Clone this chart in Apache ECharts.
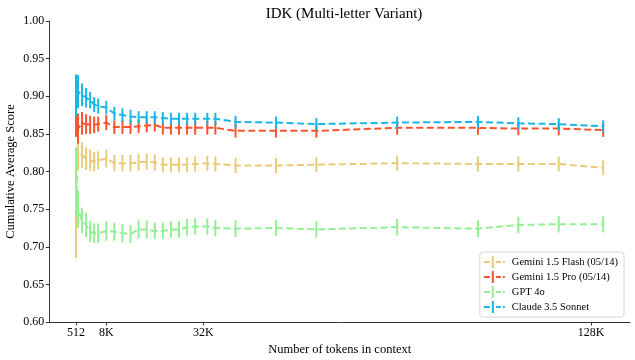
<!DOCTYPE html>
<html lang="en">
  <head>
    <meta charset="UTF-8" />
    <title>IDK (Multi-letter Variant)</title>
    <style>
      html, body { margin: 0; padding: 0; background: #fff; }
    </style>
  </head>
  <body>
    <div id="main" style="width: 635px; height: 360px"></div>
    <script src="https://cdn.jsdelivr.net/npm/echarts@6.0.0/dist/echarts.min.js"></script>
    <script>
      // context length in K tokens (1K = 1024)
      const tokensK = [0.5, 1, 2, 3, 4, 5, 6, 8, 10, 12, 14, 16, 18, 20, 22, 24, 26, 28, 30, 33, 35, 40, 50, 60, 80, 100, 110, 120, 131];

      const flashMean = [0.758, 0.824, 0.822, 0.817, 0.815, 0.813, 0.815, 0.817, 0.811, 0.811, 0.811, 0.812, 0.813, 0.812, 0.809, 0.809, 0.809, 0.809, 0.810, 0.811, 0.810, 0.808, 0.808, 0.809, 0.811, 0.810, 0.810, 0.810, 0.805];
      const flashErr = [0.073, 0.021, 0.017, 0.015, 0.014, 0.013, 0.012, 0.012, 0.011, 0.011, 0.011, 0.011, 0.011, 0.011, 0.010, 0.010, 0.010, 0.010, 0.010, 0.010, 0.010, 0.010, 0.010, 0.010, 0.010, 0.010, 0.010, 0.010, 0.010];

      const proMean = [0.875, 0.857, 0.864, 0.863, 0.862, 0.862, 0.863, 0.865, 0.859, 0.859, 0.859, 0.860, 0.861, 0.862, 0.858, 0.858, 0.858, 0.858, 0.858, 0.858, 0.858, 0.854, 0.854, 0.854, 0.858, 0.858, 0.857, 0.857, 0.855];
      const proErr = [0.029, 0.020, 0.015, 0.013, 0.012, 0.011, 0.010, 0.010, 0.009, 0.009, 0.009, 0.009, 0.009, 0.009, 0.009, 0.009, 0.009, 0.009, 0.009, 0.009, 0.009, 0.009, 0.009, 0.009, 0.009, 0.009, 0.009, 0.009, 0.009];

      const gptMean = [0.786, 0.750, 0.735, 0.729, 0.720, 0.718, 0.718, 0.721, 0.720, 0.718, 0.717, 0.723, 0.723, 0.721, 0.721, 0.723, 0.723, 0.726, 0.727, 0.727, 0.725, 0.724, 0.725, 0.723, 0.726, 0.724, 0.729, 0.730, 0.730];
      const gptErr = [0.046, 0.025, 0.017, 0.016, 0.014, 0.013, 0.013, 0.013, 0.012, 0.012, 0.012, 0.012, 0.012, 0.011, 0.011, 0.011, 0.011, 0.011, 0.011, 0.011, 0.011, 0.011, 0.011, 0.011, 0.011, 0.011, 0.011, 0.011, 0.011];

      const sonnetMean = [0.901, 0.906, 0.902, 0.898, 0.895, 0.889, 0.887, 0.885, 0.877, 0.875, 0.873, 0.872, 0.872, 0.872, 0.871, 0.870, 0.870, 0.870, 0.870, 0.870, 0.870, 0.866, 0.865, 0.863, 0.865, 0.866, 0.864, 0.863, 0.860];
      const sonnetErr = [0.028, 0.022, 0.015, 0.013, 0.011, 0.010, 0.010, 0.009, 0.009, 0.009, 0.009, 0.008, 0.008, 0.008, 0.008, 0.008, 0.008, 0.008, 0.008, 0.008, 0.008, 0.008, 0.008, 0.008, 0.008, 0.008, 0.008, 0.008, 0.008];

      const xTickValues = [0.5, 8, 32, 128];
      const xTickLabels = ["512", "8K", "32K", "128K"];

      const models = [
        { name: "Gemini 1.5 Flash (05/14)", mean: flashMean, err: flashErr, color: "#eacb7a" },
        { name: "Gemini 1.5 Pro (05/14)", mean: proMean, err: proErr, color: "#f9532f" },
        { name: "GPT 4o", mean: gptMean, err: gptErr, color: "#94ef94" },
        { name: "Claude 3.5 Sonnet", mean: sonnetMean, err: sonnetErr, color: "#1ab6e8" },
      ];

      const font = "Liberation Serif";
      const legendIcon = "path://M0,5H6V7H0Z M8,0H10V12H8Z M12,5H17V7H12Z M19,5H21V7H19Z";

      function errRender(color) {
        return function (params, api) {
          const x = api.value(0);
          const lo = api.coord([x, api.value(1)]);
          const hi = api.coord([x, api.value(2)]);
          return {
            type: "line",
            shape: { x1: lo[0], y1: lo[1], x2: hi[0], y2: hi[1] },
            style: { stroke: color, lineWidth: 2 },
          };
        };
      }

      const series = [];
      models.forEach(function (m, i) {
        series.push({
          name: m.name + " err",
          type: "custom",
          renderItem: errRender(m.color),
          encode: { x: 0, y: [1, 2] },
          data: tokensK.map(function (t, j) {
            return [t, m.mean[j] - m.err[j], m.mean[j] + m.err[j]];
          }),
          z: 2 + i * 2,
          silent: true,
        });
        series.push({
          name: m.name,
          type: "line",
          data: tokensK.map(function (t, j) {
            return [t, m.mean[j]];
          }),
          symbol: "none",
          color: m.color,
          lineStyle: { color: m.color, width: 2, type: [7, 3.5] },
          z: 3 + i * 2,
        });
      });

      const chart = echarts.init(document.getElementById("main"));
      chart.setOption({
        animation: false,
        title: {
          text: "IDK (Multi-letter Variant)",
          left: 339,
          textAlign: "center",
          top: 2,
          textStyle: { fontFamily: font, fontSize: 15, fontWeight: "normal", color: "#000" },
        },
        grid: { left: 49.3, right: 5, top: 21, bottom: 38, containLabel: false, outerBoundsMode: "none" },
        legend: {
          data: models.map(function (m) { return m.name; }),
          orient: "vertical",
          right: 11,
          bottom: 43,
          icon: legendIcon,
          itemWidth: 21,
          itemHeight: 12,
          itemGap: 3,
          padding: [4, 6, 4, 4],
          backgroundColor: "#fff",
          borderColor: "#d6d6d6",
          borderWidth: 1,
          borderRadius: 3,
          itemStyle: { borderWidth: 0 },
          textStyle: { fontFamily: font, fontSize: 10.5, color: "#000", padding: [0, 0, 0, 2] },
        },
        xAxis: {
          type: "value",
          min: -6.11,
          max: 137.64,
          name: "Number of tokens in context",
          nameLocation: "middle",
          nameGap: 21,
          nameMoveOverlap: false,
          nameTextStyle: { fontFamily: font, fontSize: 12.5, color: "#000" },
          splitLine: { show: false },
          axisLine: { onZero: false, lineStyle: { color: "#333", width: 1 } },
          axisTick: { customValues: xTickValues, length: 3.5, lineStyle: { color: "#333" } },
          axisLabel: {
            customValues: xTickValues,
            formatter: function (v) {
              const k = xTickValues.indexOf(v);
              return k >= 0 ? xTickLabels[k] : "";
            },
            margin: 5,
            fontFamily: font,
            fontSize: 12,
            color: "#000",
          },
        },
        yAxis: {
          type: "value",
          min: 0.6,
          max: 1.0,
          interval: 0.05,
          name: "Cumulative Average Score",
          nameLocation: "middle",
          nameGap: 32,
          nameMoveOverlap: false,
          nameTextStyle: { fontFamily: font, fontSize: 12.5, color: "#000" },
          splitLine: { show: false },
          axisLine: { show: true, onZero: false, lineStyle: { color: "#333", width: 1 } },
          axisTick: { show: true, length: 3.5, lineStyle: { color: "#333" } },
          axisLabel: {
            formatter: function (v) { return v.toFixed(2); },
            margin: 5,
            fontFamily: font,
            fontSize: 12,
            color: "#000",
          },
        },
        series: series,
      });
    </script>
  </body>
</html>
